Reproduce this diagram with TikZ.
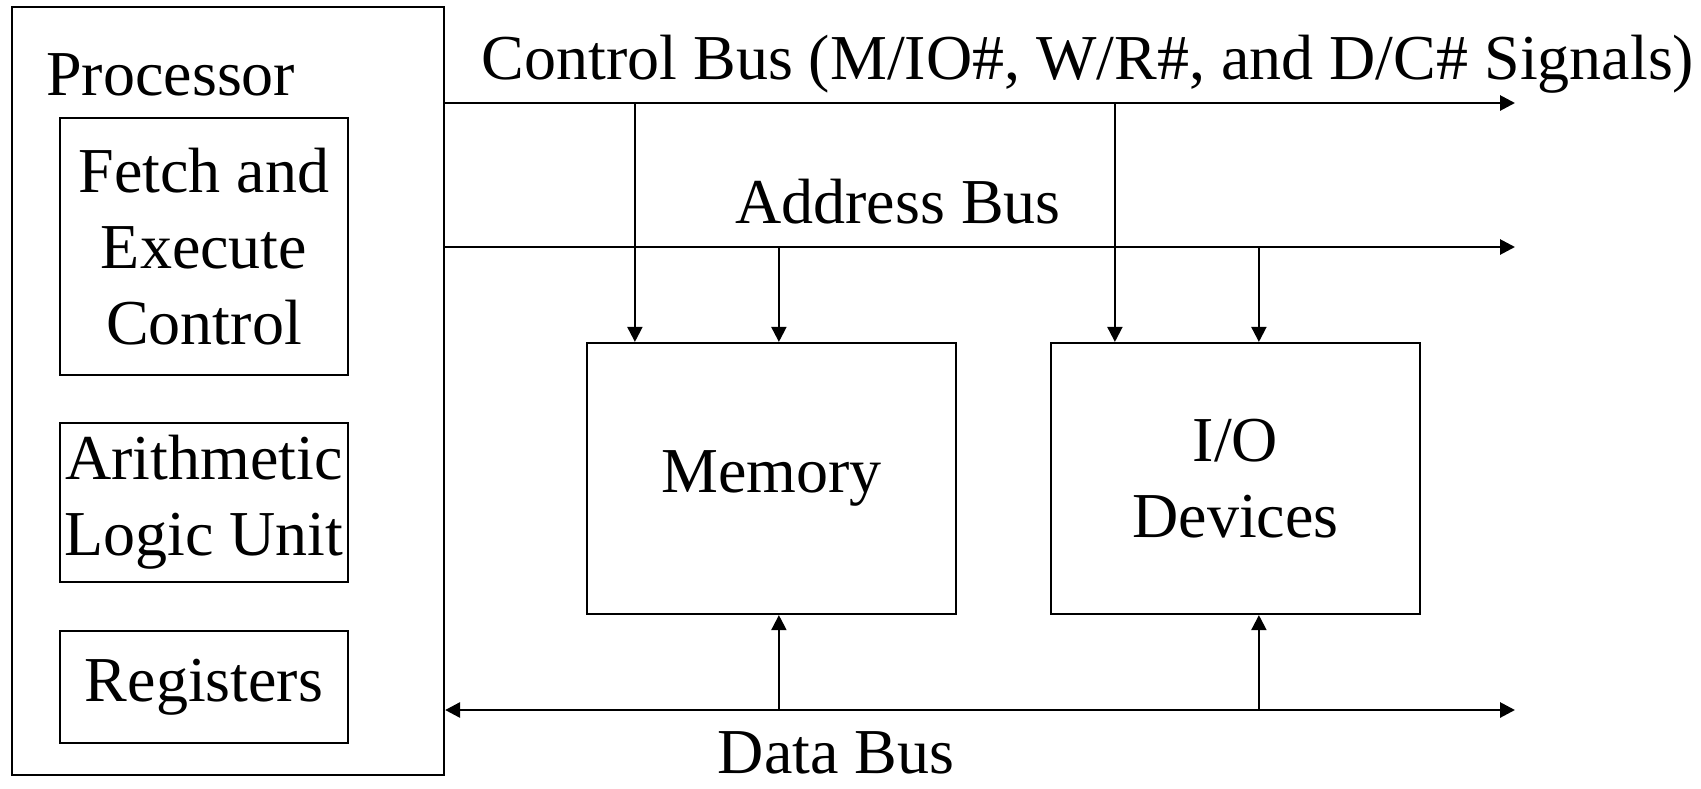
\documentclass[tikz,border=0pt]{standalone}
\usepackage{fontspec}
\setmainfont{Liberation Serif}
\usetikzlibrary{arrows.meta}

\tikzset{
  box/.style={draw, line width=1.1pt, inner sep=0pt, align=center},
  bus/.style={line width=1.4pt, -{Triangle[length=7.5pt,width=7.5pt]}},
  dbus/.style={line width=1.4pt, {Triangle[length=7.5pt,width=7.5pt]}-{Triangle[length=7.5pt,width=7.5pt]}},
  tap/.style={line width=1pt, -{Triangle[length=7.5pt,width=7.5pt]}},
  lbl/.style={inner sep=0pt, anchor=base},
}

\begin{document}
\begin{tikzpicture}[x=0.5pt, y=-0.5pt, font=\fontsize{32}{38}\selectfont]
    \useasboundingbox (0,0) rectangle (1701,788);

    % Processor with its parts
    \node[box, minimum width=216pt, minimum height=384pt] (proc) at (228,391) {};
    \node[lbl, anchor=base west] (proclbl) at (46,95) {Processor};
    \node[box, minimum width=144pt, minimum height=128.5pt] (fetch) at (204,246.5) {Fetch and\\Execute\\Control};
    \node[box, minimum width=144pt, minimum height=79.5pt] (alu) at (204,502.5) {Arithmetic\\Logic Unit};
    \node[box, minimum width=144pt, minimum height=56pt] (regs) at (204,687) {Registers};

    % Memory and I/O
    \node[box, minimum width=184.5pt, minimum height=135.5pt] (mem) at (771.5,478.5) {Memory};
    \node[box, minimum width=184.5pt, minimum height=135.5pt] (io) at (1235.5,478.5) {I/O\\Devices};

    % Bus ends
    \coordinate (ctl) at (1515,103);
    \coordinate (adr) at (1515,247);
    \coordinate (dat) at (1515,710);

    % The three buses
    \draw[bus] (proc.east |- ctl) -- (ctl);
    \draw[bus] (proc.east |- adr) -- (adr);
    \draw[dbus] (proc.east |- dat) -- (dat);

    % Bus labels
    \node[lbl] (ctllbl) at (1088,79) {Control Bus (M/IO\#, W/R\#, and D/C\# Signals)};
    \node[lbl] (adrlbl) at (898,223) {Address Bus};
    \node[lbl] (datlbl) at (836,773) {Data Bus};

    % Taps from the buses into memory and I/O
    \foreach \b/\c/\a in {mem/24.5pt/96.5pt, io/32.5pt/104.5pt} {
        \coordinate (\b-c) at ([xshift=\c]\b.north west);
        \coordinate (\b-a) at ([xshift=\a]\b.north west);
        \draw[tap] (\b-c |- ctl) -- (\b-c);
        \draw[tap] (\b-a |- adr) -- (\b-a);
        \draw[tap] (\b-a |- dat) -- (\b-a |- \b.south);
    }
\end{tikzpicture}
\end{document}
